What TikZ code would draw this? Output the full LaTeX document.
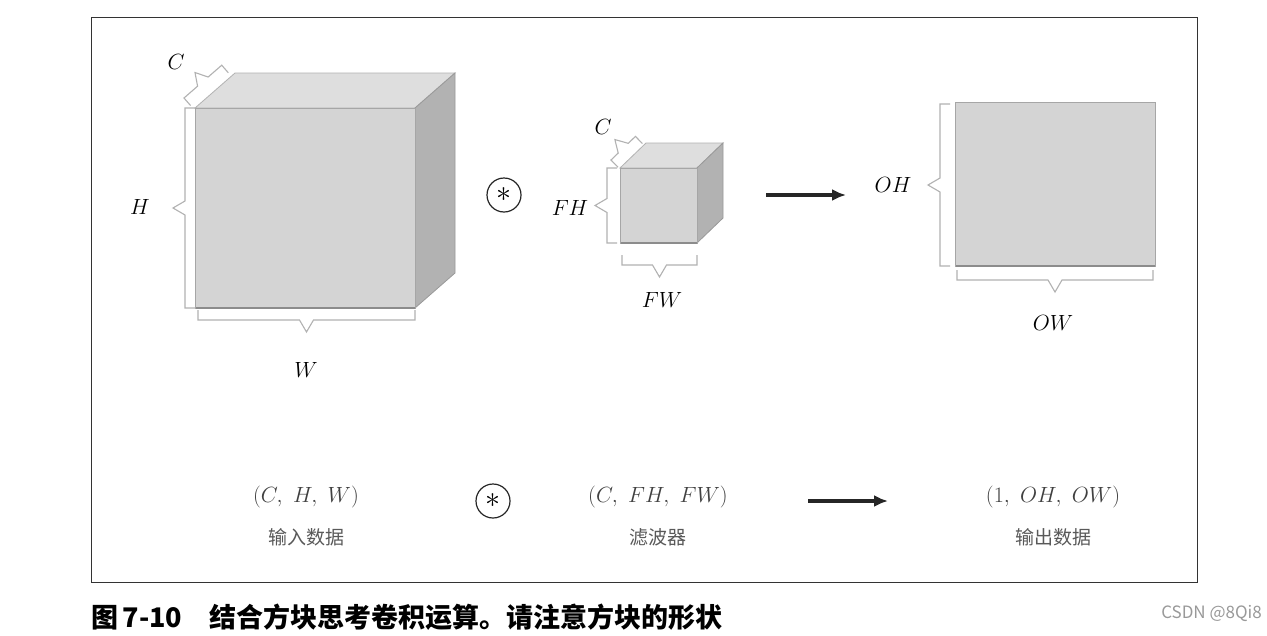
\documentclass[tikz,border=0pt]{standalone}
\usepackage{fix-cm}
\usepackage{fontspec}
\newfontfamily\cjk{Noto Sans CJK SC}
\begin{document}
\begin{tikzpicture}[x=1pt,y=1pt,
  brl/.style={draw=black!30,line width=1.1pt},
  lab/.style={font=\fontsize{22}{24}\selectfont},
  pics/brk/.style={code={\draw[brl] (0,10)--(0,0)--({#1/2-7},0)--({#1/2},-12)--({#1/2+7},0)--(#1,0)--(#1,10);}},
  front/.style={fill=black!17,draw=black!35,line width=0.8pt},
  topf/.style={fill=black!13,draw=black!30,line width=0.8pt},
  side/.style={fill=black!30,draw=black!40,line width=0.8pt},
  conv/.style={circle,draw=black!85,line width=1.2pt,minimum size=34pt,inner sep=0pt,font=\fontsize{30}{30}\selectfont},
  arr/.style={line width=4pt,draw=black!85,-{Latex[length=14pt,width=12pt]}}]
\usetikzlibrary{arrows.meta}
\useasboundingbox (0,0) rectangle (1267,-635);
\fill[white] (0,0) rectangle (1267,-635);
\node[draw=black!80,line width=0.8pt,minimum width=1106pt,minimum height=565pt,anchor=north west,inner sep=0pt] (frame) at (91,-17) {};
% big cube
\draw[topf] (195,-108)--(235,-73)--(455,-73)--(415,-108)--cycle;
\draw[side] (415,-108)--(455,-73)--(455,-273)--(415,-308)--cycle;
\draw[front] (195,-108) rectangle (415,-308);
\draw[black!45,line width=1.5pt] (196,-308)--(415,-308);
\pic[rotate=41,yscale=-1] at (184,-98) {brk=50};
\pic[rotate=-90] at (185,-108) {brk=200};
\pic at (198,-320) {brk=217};
\node[lab] (lc) at (176,-62) {$C$};
\node[lab] (lh) at (140,-207) {$H$};
\node[lab] (lw) at (306,-370) {$W$};
% small cube
\draw[topf] (620,-168)--(646,-143)--(723,-143)--(697,-168)--cycle;
\draw[side] (697,-168)--(723,-143)--(723,-218)--(697,-243)--cycle;
\draw[front] (620,-168) rectangle (697,-243);
\draw[black!45,line width=1.5pt] (621,-243)--(697,-243);
\pic[rotate=44,yscale=-1] at (611,-160) {brk=34};
\pic[rotate=-90] at (607,-168) {brk=75};
\pic at (622,-265) {brk=75};
\node[lab] (sc) at (603,-127) {$C$};
\node[lab] (sfh) at (570,-208) {$FH$};
\node[lab] (sfw) at (662,-300) {$FW$};
% output
\draw[front] (955,-102) rectangle (1155,-266);
\draw[black!45,line width=1.5pt] (956,-266)--(1155,-266);
\pic[rotate=-90] at (940,-104) {brk=162};
\pic at (957,-280) {brk=196};
\node[lab] (oh) at (893,-185) {$OH$};
\node[lab] (ow) at (1053,-323) {$OW$};
% operators
\node[conv] (c1) at (504,-195) {$\ast$};
\node[conv] (c2) at (493,-501) {$\ast$};
\coordinate (a1s) at (766,-195); \coordinate (a1e) at (846,-195);
\coordinate (a2s) at (808,-501); \coordinate (a2e) at (888,-501);
\draw[arr] (a1s)--(a1e);
\draw[arr] (a2s)--(a2e);
% bottom texts
\node[lab,text=black!75] (t1) at (306,-497) {$(C,\ H,\ W)$};
\node[text=black!65,font=\cjk\fontsize{19}{22}\selectfont] (t1b) at (306,-537) {输入数据};
\node[lab,text=black!75] (t2) at (658,-497) {$(C,\ FH,\ FW)$};
\node[text=black!65,font=\cjk\fontsize{19}{22}\selectfont] (t2b) at (658,-537) {滤波器};
\node[lab,text=black!75] (t3) at (1053,-497) {$(1,\ OH,\ OW)$};
\node[text=black!65,font=\cjk\fontsize{19}{22}\selectfont] (t3b) at (1053,-537) {输出数据};
% caption
\node[anchor=west,inner sep=0pt,font=\cjk\bfseries\fontsize{27}{30}\selectfont] (cap) at (91,-617) {图\,7-10\quad 结合方块思考卷积运算。请注意方块的形状};
\node[anchor=east,inner sep=0pt,text=black!40,font=\cjk\fontsize{17}{20}\selectfont] (wm) at (1262,-613) {CSDN @8Qi8};
\end{tikzpicture}
\end{document}
